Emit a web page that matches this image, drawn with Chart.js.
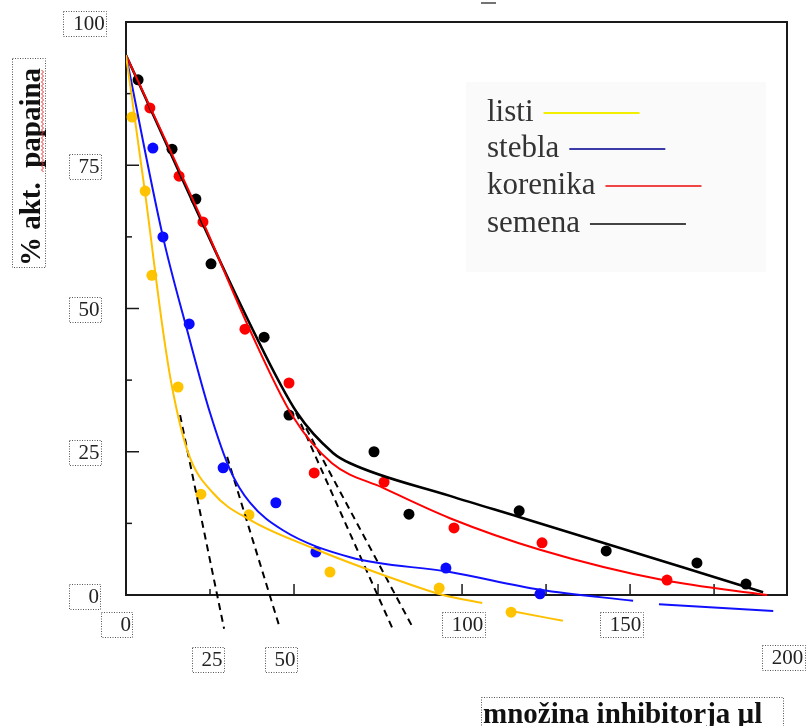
<!DOCTYPE html>
<html>
<head>
<meta charset="utf-8">
<script src="https://cdn.jsdelivr.net/npm/chart.js@4.4.0/dist/chart.umd.min.js"></script>
<style>
  html, body { margin: 0; padding: 0; background: #fff; }
  #wrap { width: 806px; height: 726px; position: relative; }
</style>
</head>
<body>
<div id="wrap"><canvas id="papain"></canvas></div>
<script>
// series names (legend order)
var seriesNames = ['listi', 'stebla', 'korenika', 'semena'];

var listiX = [1.8, 5.7, 7.7, 15.5, 22.3, 36.6, 60.7, 93.2, 114.6];
var listiY = [83.4, 70.5, 55.8, 36.3, 17.6, 14.0, 4.0, 1.2, -3.0];
var steblaX = [8.0, 11.0, 18.8, 28.9, 44.6, 56.5, 95.2, 123.2];
var steblaY = [78.0, 62.5, 47.3, 22.2, 16.1, 7.5, 4.7, 0.2];
var korenikaX = [7.1, 15.8, 22.9, 35.4, 48.5, 56.0, 76.8, 97.6, 123.8, 161.0];
var korenikaY = [85.0, 73.1, 65.1, 46.4, 37.0, 21.3, 19.7, 11.7, 9.1, 2.6];
var semenaX = [3.6, 13.7, 20.8, 25.3, 41.1, 48.5, 73.8, 84.2, 117.0, 142.9, 169.9, 184.5];
var semenaY = [89.9, 77.8, 69.1, 57.8, 45.0, 31.4, 25.0, 14.1, 14.7, 7.7, 5.6, 1.9];

// fitted curves (null = break in the drawn line)
var listiFitX = [0, 5.65, 11.0, 13.7, 18.5, 25.9, 36.9, 56.8, 76.5, 94.3, 106.0, 110.0, 114.6, 130.0];
var listiFitY = [94.2, 70.3, 46.2, 36.3, 24.8, 17.8, 13.1, 7.9, 3.5, 0, -1.4, null, -2.8, -4.5];
var steblaFitX = [0, 11.0, 18.2, 25.0, 31.0, 36.9, 46.7, 66.7, 96.4, 123.2, 150.9, 155.0, 158.6, 192.6];
var steblaFitY = [94.2, 62.5, 46.2, 31.8, 21.8, 16.1, 11.3, 6.6, 4.0, 0.9, -1.0, null, -1.6, -2.8];
var korenikaFitX = [0, 22.9, 36.9, 49.7, 61.3, 76.5, 96.4, 123.2, 159.8, 190.8];
var korenikaFitY = [94.2, 65.1, 46.2, 31.1, 23.0, 18.7, 13.4, 7.9, 2.6, 0];
var semenaFitX = [0, 37.8, 50.9, 61.6, 66.7, 96.4, 117.0, 189.6];
var semenaFitY = [94.2, 46.2, 31.8, 24.8, 23.0, 17.3, 13.6, 0.5];

// dashed tangent lines: start and end of each
var tangentX = [[16.1, 29.2], [30.1, 45.8], [50.6, 79.5], [53.6, 85.1]];
var tangentY = [[31.4, -5.9], [24.1, -5.8], [31.8, -6.1], [29.1, -5.4]];

// axis tick labels
var yTickLabels = [100, 75, 50, 25, 0];
var xTickLabels = [0, 25, 50, 100, 150, 200];

var pointColors = ['#ffc400', '#0a0aff', '#ff0000', '#000000'];
var lineColors = ['#ffc000', '#1010ff', '#ff0000', '#000000'];
var legendColors = ['#f2ee00', '#3a3aa8', '#f04545', '#444444'];

function pairs(xs, ys) {
    return xs.map(function (x, i) { return { x: x, y: ys[i] }; });
}

var pointSets = [[listiX, listiY], [steblaX, steblaY], [korenikaX, korenikaY], [semenaX, semenaY]];
var fitSets = [[listiFitX, listiFitY], [steblaFitX, steblaFitY], [korenikaFitX, korenikaFitY], [semenaFitX, semenaFitY]];

var datasets = [];
fitSets.forEach(function (s, i) {
    datasets.push({
        label: seriesNames[i] + ' fit',
        data: pairs(s[0], s[1]),
        borderColor: lineColors[i],
        borderWidth: i === 3 ? 2.6 : 2,
        pointRadius: 0,
        fill: false,
        spanGaps: false,
        cubicInterpolationMode: 'monotone'
    });
});
tangentX.forEach(function (xs, i) {
    datasets.push({
        label: 'tangent ' + i,
        data: pairs(xs, tangentY[i]),
        borderColor: '#000',
        borderWidth: 2,
        borderDash: [7, 5],
        pointRadius: 0,
        fill: false
    });
});
pointSets.forEach(function (s, i) {
    datasets.push({
        label: seriesNames[i],
        data: pairs(s[0], s[1]),
        showLine: false,
        pointRadius: 5.5,
        pointBorderWidth: 0,
        pointBackgroundColor: pointColors[i],
        pointBorderColor: pointColors[i]
    });
});

function dottedBox(ctx, x, y, w, h) {
    ctx.save();
    ctx.setLineDash([1, 1.5]);
    ctx.strokeStyle = '#555';
    ctx.lineWidth = 1;
    ctx.strokeRect(Math.round(x) + 0.5, Math.round(y) + 0.5, Math.round(w), Math.round(h));
    ctx.restore();
}

function labelBox(ctx, cx, cy, text) {
    ctx.font = '21px "Liberation Serif", serif';
    var w = Math.max(31, ctx.measureText(text).width + 11);
    var h = 25;
    dottedBox(ctx, cx - w / 2, cy - h / 2, w, h);
    ctx.fillStyle = '#222';
    ctx.textAlign = 'right';
    ctx.textBaseline = 'middle';
    ctx.fillText(text, cx + w / 2 - 1, cy + 1);
}

// nudges of the x label boxes as they sit in the figure
var xLabelNudge = [[-9.5, 29.5], [-2.5, 64.5], [-13.5, 64.5], [1, 29.5], [-9, 29], [-15, 62]];

var framePlugin = {
    id: 'frame',
    beforeDatasetsDraw: function (chart) {
        var ctx = chart.ctx;
        var xs = chart.scales.x, ys = chart.scales.y;
        var left = xs.getPixelForValue(0), right = chart.chartArea.right;
        var top = ys.getPixelForValue(100), bottom = ys.getPixelForValue(0);

        // faint legend panel
        ctx.fillStyle = '#fafafa';
        ctx.fillRect(466, 82, 300, 190);

        ctx.save();
        ctx.strokeStyle = '#1a1a1a';
        ctx.lineWidth = 2;
        ctx.strokeRect(left, top, right - left, bottom - top);

        // y ticks, major every 25, minor between
        ctx.lineWidth = 1.5;
        for (var v = 12.5; v < 100; v += 12.5) {
            var py = ys.getPixelForValue(v);
            var len = (v % 25 === 0) ? 13 : 6;
            ctx.beginPath();
            ctx.moveTo(left, py);
            ctx.lineTo(left + len, py);
            ctx.stroke();
        }
        // x ticks
        for (var t = 25; t < 197; t += 25) {
            var px = xs.getPixelForValue(t);
            ctx.beginPath();
            ctx.moveTo(px, bottom);
            ctx.lineTo(px, bottom - (t === 25 ? 6 : 11));
            ctx.stroke();
        }
        // small mark at the top of the page
        ctx.lineWidth = 1.5;
        ctx.strokeStyle = '#444';
        ctx.beginPath();
        ctx.moveTo(481, 3);
        ctx.lineTo(496, 3);
        ctx.stroke();
        ctx.restore();

        ctx.save();
        yTickLabels.forEach(function (v) {
            labelBox(ctx, left - 41.5, ys.getPixelForValue(v) + 1, String(v));
        });
        xTickLabels.forEach(function (v, i) {
            labelBox(ctx, xs.getPixelForValue(v) + xLabelNudge[i][0], bottom + xLabelNudge[i][1], String(v));
        });

        // axis titles
        dottedBox(ctx, 12, 58, 33, 209);
        ctx.save();
        ctx.translate(40, 167);
        ctx.rotate(-Math.PI / 2);
        ctx.font = 'bold 29px "Liberation Serif", serif';
        ctx.fillStyle = '#111';
        ctx.textAlign = 'center';
        ctx.textBaseline = 'alphabetic';
        ctx.fillText('% akt.  papaina', 0, 0);
        ctx.restore();
        // spell-check squiggle under "papaina"
        ctx.strokeStyle = '#e03030';
        ctx.lineWidth = 1;
        ctx.beginPath();
        for (var y = 70, k = 0; y <= 173; y += 2, k++) {
            var wx = (k % 2) ? 43.5 : 41.5;
            if (k === 0) ctx.moveTo(wx, y); else ctx.lineTo(wx, y);
        }
        ctx.stroke();

        dottedBox(ctx, 481, 697, 302, 32);
        ctx.font = 'bold 29px "Liberation Serif", serif';
        ctx.fillStyle = '#111';
        ctx.textAlign = 'left';
        ctx.textBaseline = 'alphabetic';
        ctx.fillText('množina inhibitorja µl', 483, 723);
        ctx.restore();
    },
    afterDatasetsDraw: function (chart) {
        var ctx = chart.ctx;
        var baselines = [121, 157, 194, 232];
        ctx.save();
        ctx.font = '31px "Liberation Serif", serif';
        ctx.textAlign = 'left';
        ctx.textBaseline = 'alphabetic';
        seriesNames.forEach(function (name, i) {
            ctx.fillStyle = '#333';
            ctx.fillText(name, 487, baselines[i]);
            var x0 = 487 + ctx.measureText(name).width + 10;
            ctx.strokeStyle = legendColors[i];
            ctx.lineWidth = 2;
            ctx.beginPath();
            ctx.moveTo(x0, baselines[i] - 8);
            ctx.lineTo(x0 + 96, baselines[i] - 8);
            ctx.stroke();
        });
        ctx.restore();
    }
};

var ctxPapain = document.getElementById('papain').getContext('2d');

var papainChart = new Chart(ctxPapain, {
    type: 'line',
    data: { datasets: datasets },
    options: {
        responsive: true,
        maintainAspectRatio: false,
        animation: false,
        layout: { padding: { left: 126, right: 19, top: 22, bottom: 85.16 } },
        plugins: { legend: { display: false }, tooltip: { enabled: false } },
        scales: {
            x: { type: 'linear', min: 0, max: 196.7, display: false },
            y: { type: 'linear', min: -8, max: 100, display: false }
        }
    },
    plugins: [framePlugin]
});
</script>
</body>
</html>
